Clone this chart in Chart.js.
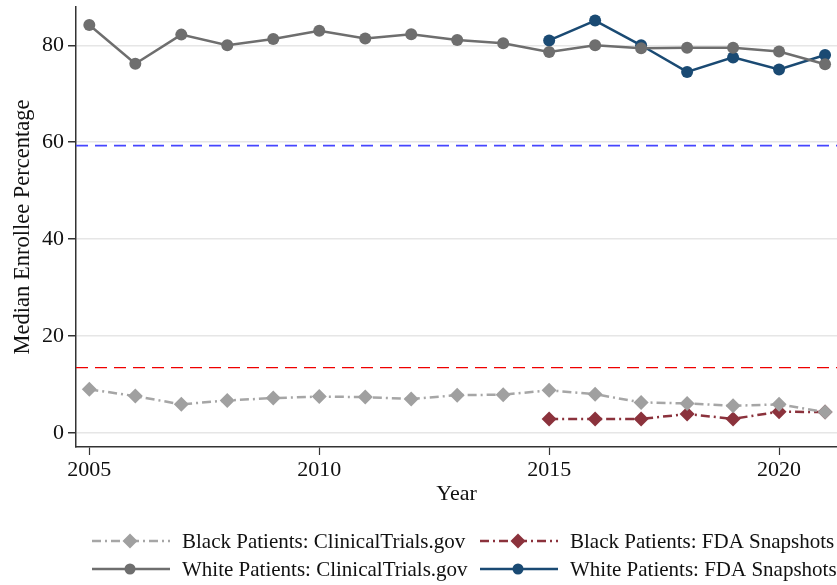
<!DOCTYPE html>
<html>
<head>
<meta charset="utf-8">
<script src="https://cdn.jsdelivr.net/npm/chart.js@4/dist/chart.umd.min.js"></script>
<style>
  html, body { margin: 0; padding: 0; background: #ffffff; }
  #wrap { width: 837px; height: 585px; position: relative; }
</style>
</head>
<body>
<div id="wrap"><canvas id="c" width="837" height="585"></canvas></div>
<script>
// ---- data ----
const years = [2005, 2006, 2007, 2008, 2009, 2010, 2011, 2012, 2013, 2014, 2015, 2016, 2017, 2018, 2019, 2020, 2021];
const fdaYears = [2015, 2016, 2017, 2018, 2019, 2020, 2021];
const blackCT = [9.0, 7.6, 5.9, 6.7, 7.2, 7.5, 7.4, 7.0, 7.8, 7.9, 8.8, 8.0, 6.3, 6.1, 5.6, 5.9, 4.3];
const whiteCT = [84.2, 76.2, 82.2, 80.0, 81.3, 83.0, 81.4, 82.3, 81.1, 80.4, 78.6, 80.0, 79.4, 79.5, 79.5, 78.7, 76.1];
const blackFDA = [2.9, 2.9, 2.9, 3.9, 2.9, 4.4, 4.3];
const whiteFDA = [81.0, 85.1, 80.0, 74.5, 77.5, 75.0, 78.0];
const whiteRef = 59.3;
const blackRef = 13.5;
const xTicks = [2005, 2010, 2015, 2020];
const yTicks = [0, 20, 40, 60, 80];
const seriesLabels = [
  'Black Patients: ClinicalTrials.gov',
  'Black Patients: FDA Snapshots',
  'White Patients: ClinicalTrials.gov',
  'White Patients: FDA Snapshots'
];

const FONT = "'Liberation Serif', 'Times New Roman', serif";
const pts = (xs, ys) => xs.map((x, i) => ({ x: x, y: ys[i] }));

const refLines = {
  id: 'refLines',
  beforeDatasetsDraw(chart) {
    const { ctx, chartArea, scales } = chart;
    const lines = [
      { v: whiteRef, color: '#4646ff', dash: [12, 7], w: 1.8 },
      { v: blackRef, color: '#ee0000', dash: [12, 7], w: 1.2 }
    ];
    ctx.save();
    lines.forEach(l => {
      const y = scales.y.getPixelForValue(l.v);
      ctx.beginPath();
      ctx.setLineDash(l.dash);
      ctx.strokeStyle = l.color;
      ctx.lineWidth = l.w;
      ctx.moveTo(chartArea.left, y);
      ctx.lineTo(chartArea.right, y);
      ctx.stroke();
    });
    ctx.restore();
  }
};

const customLegend = {
  id: 'customLegend',
  afterDraw(chart) {
    const ctx = chart.ctx;
    const ds = chart.data.datasets;
    const cols = [92, 480];
    const rows = [541, 569];
    ctx.save();
    ds.forEach((d, i) => {
      const cx = cols[i % 2];
      const cy = rows[Math.floor(i / 2)];
      ctx.beginPath();
      ctx.setLineDash(d.borderDash || []);
      ctx.strokeStyle = d.borderColor;
      ctx.lineWidth = d.borderWidth;
      ctx.moveTo(cx, cy);
      ctx.lineTo(cx + 78, cy);
      ctx.stroke();
      ctx.setLineDash([]);
      ctx.fillStyle = d.pointBackgroundColor;
      const mx = cx + 38;
      if (d.pointStyle === 'rectRot') {
        const r = 7.5;
        ctx.beginPath();
        ctx.moveTo(mx, cy - r); ctx.lineTo(mx + r, cy); ctx.lineTo(mx, cy + r); ctx.lineTo(mx - r, cy);
        ctx.closePath(); ctx.fill();
      } else {
        ctx.beginPath(); ctx.arc(mx, cy, 5.5, 0, Math.PI * 2); ctx.fill();
      }
      ctx.fillStyle = '#111111';
      ctx.font = '21px ' + FONT;
      ctx.textBaseline = 'middle';
      ctx.textAlign = 'left';
      ctx.fillText(d.label, cx + 90, cy + 1);
    });
    ctx.restore();
  }
};

new Chart(document.getElementById('c'), {
  type: 'line',
  data: {
    datasets: [
      {
        label: seriesLabels[0], data: pts(years, blackCT),
        borderColor: '#a6a6a6', backgroundColor: '#a0a0a0', pointBackgroundColor: '#a0a0a0',
        borderWidth: 2.5, borderDash: [9, 4, 2, 4], pointStyle: 'rectRot', pointRadius: 7.5, pointBorderWidth: 0
      },
      {
        label: seriesLabels[1], data: pts(fdaYears, blackFDA),
        borderColor: '#8b323c', backgroundColor: '#8b323c', pointBackgroundColor: '#8b323c',
        borderWidth: 2.5, borderDash: [9, 4, 2, 4], pointStyle: 'rectRot', pointRadius: 7.5, pointBorderWidth: 0
      },
      {
        label: seriesLabels[2], data: pts(years, whiteCT),
        borderColor: '#6e6e6e', backgroundColor: '#6e6e6e', pointBackgroundColor: '#6e6e6e',
        borderWidth: 2.5, pointStyle: 'circle', pointRadius: 6, pointBorderWidth: 0
      },
      {
        label: seriesLabels[3], data: pts(fdaYears, whiteFDA),
        borderColor: '#1a4a73', backgroundColor: '#1a4a73', pointBackgroundColor: '#1a4a73',
        borderWidth: 2.5, pointStyle: 'circle', pointRadius: 6, pointBorderWidth: 0
      }
    ]
  },
  options: {
    responsive: false,
    animation: false,
    events: [],
    layout: { autoPadding: false, padding: { top: 7, right: 0, left: 0, bottom: 78 } },
    plugins: { legend: { display: false }, tooltip: { enabled: false } },
    scales: {
      x: {
        type: 'linear', min: 2004.71, max: 2021.26,
        afterBuildTicks: s => { s.ticks = xTicks.map(v => ({ value: v })); },
        afterFit: s => { s.height = 60; s.paddingLeft = 0; s.paddingRight = 0; },
        grid: { display: true, drawOnChartArea: false, drawTicks: true, tickLength: 8, tickColor: '#333333', tickWidth: 1.2 },
        border: { display: true, color: '#333333', width: 1.5 },
        ticks: { color: '#111111', font: { family: FONT, size: 22 }, padding: 2, maxRotation: 0, callback: v => String(v) },
        title: { display: true, text: 'Year', color: '#111111', font: { family: FONT, size: 22 }, padding: { top: 0, bottom: 0 } }
      },
      y: {
        type: 'linear', min: -2.9, max: 87.9,
        afterBuildTicks: s => { s.ticks = yTicks.map(v => ({ value: v })); },
        afterFit: s => { s.width = 76; s.paddingTop = 0; s.paddingBottom = 0; },
        grid: { display: true, drawOnChartArea: true, color: '#e6e6e6', lineWidth: 1.5, drawTicks: true, tickLength: 8, tickColor: '#333333' },
        border: { display: true, color: '#333333', width: 1.5 },
        ticks: { color: '#111111', font: { family: FONT, size: 22 }, padding: 4, callback: v => String(v) },
        title: { display: true, text: 'Median Enrollee Percentage', color: '#111111', font: { family: FONT, size: 22.5 }, padding: { top: 10, bottom: 4 } }
      }
    }
  },
  plugins: [refLines, customLegend]
});
</script>
</body>
</html>
